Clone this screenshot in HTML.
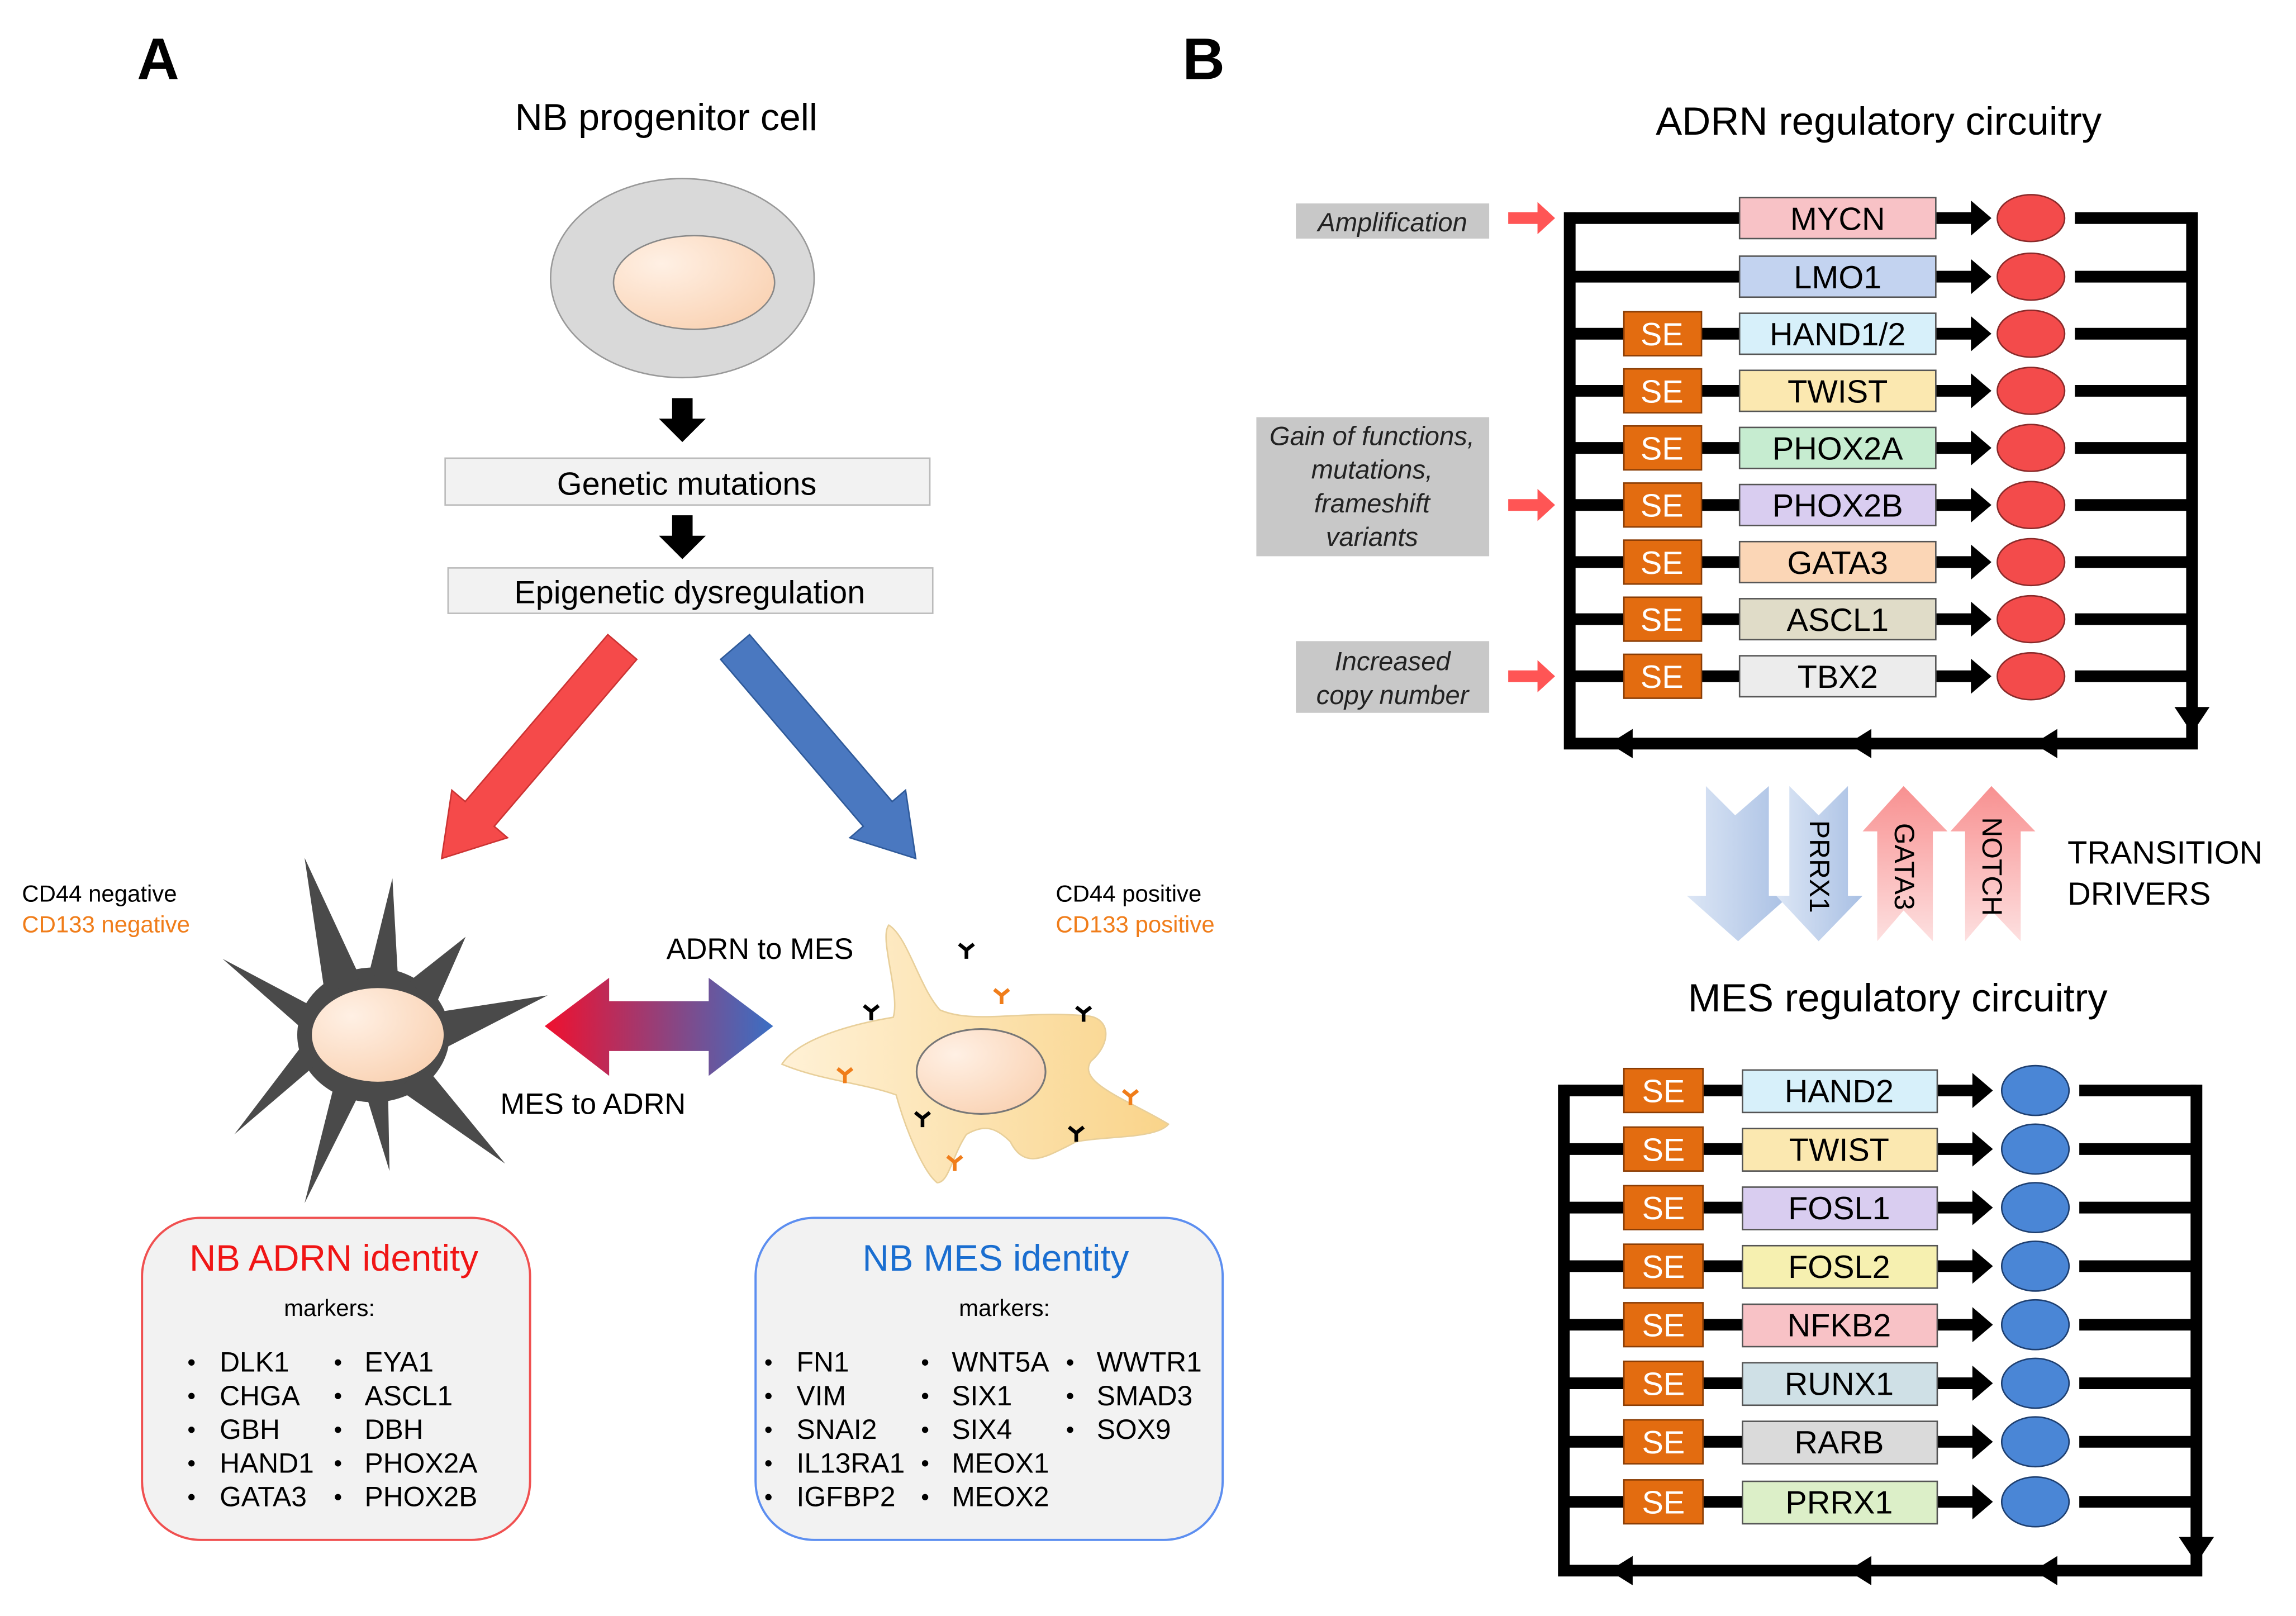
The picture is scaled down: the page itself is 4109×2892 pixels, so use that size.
<!DOCTYPE html>
<html><head><meta charset="utf-8"><style>
html,body{margin:0;padding:0;background:#fff}
svg{display:block}
text{font-family:"Liberation Sans",Arial,sans-serif}
</style></head><body>
<svg width="4109" height="2892" viewBox="0 0 1568 1104" preserveAspectRatio="none" xmlns="http://www.w3.org/2000/svg">
<defs>
<radialGradient id="nuc" cx="0.3" cy="0.3" r="0.9"><stop offset="0" stop-color="#fff0e4"/><stop offset="1" stop-color="#f9cfae"/></radialGradient>
<linearGradient id="dbl" x1="0" x2="1"><stop offset="0" stop-color="#f0102e"/><stop offset="1" stop-color="#3a6fc4"/></linearGradient>
<linearGradient id="mesc" x1="0" x2="1"><stop offset="0" stop-color="#fff1d6"/><stop offset="1" stop-color="#f9d48a"/></linearGradient>
<linearGradient id="bl" x1="0" x2="1"><stop offset="0" stop-color="#dce6f5"/><stop offset="1" stop-color="#a9c0e4"/></linearGradient>
<linearGradient id="pk" x1="0" x2="0" y1="1" y2="0"><stop offset="0" stop-color="#fde0e0"/><stop offset="1" stop-color="#f89090"/></linearGradient>
</defs>

<text x="108" y="54" font-size="40" font-weight="bold" text-anchor="middle">A</text>
<text x="822" y="54" font-size="40" font-weight="bold" text-anchor="middle">B</text>

<!-- Panel A -->
<text x="455" y="89" font-size="26" text-anchor="middle">NB progenitor cell</text>
<ellipse cx="466" cy="190" rx="90" ry="68" fill="#d9d9d9" stroke="#999" stroke-width="1"/>
<ellipse cx="474" cy="193" rx="55" ry="32" fill="url(#nuc)" stroke="#888" stroke-width="1"/>
<path d="M459,272h14v14h9l-16,16l-16,-16h9z" fill="#000"/>
<path d="M459,352h14v14h9l-16,16l-16,-16h9z" fill="#000"/>
<rect x="304" y="313" width="331" height="32" fill="#f2f2f2" stroke="#bbb"/>
<text x="469" y="338" font-size="22" text-anchor="middle">Genetic mutations</text>
<rect x="306" y="388" width="331" height="31" fill="#f2f2f2" stroke="#bbb"/>
<text x="471" y="412" font-size="22" text-anchor="middle">Epigenetic dysregulation</text>
<g transform="translate(425,442) rotate(130.5)"><path d="M0,-13L150,-13L150,-25L190,0L150,25L150,13L0,13z" fill="#f54a4a" stroke="#c33" stroke-width="1"/></g>
<g transform="translate(502,442) rotate(49.5)"><path d="M0,-13L150,-13L150,-25L190,0L150,25L150,13L0,13z" fill="#4a78c0" stroke="#2f5a9a" stroke-width="1"/></g>

<text x="15" y="616" font-size="16">CD44 negative</text>
<text x="15" y="637" font-size="16" fill="#f07d1a">CD133 negative</text>
<text x="721" y="616" font-size="16">CD44 positive</text>
<text x="721" y="637" font-size="16" fill="#f07d1a">CD133 positive</text>

<!-- ADRN star cell -->
<g fill="#4a4a4a">
<ellipse cx="255" cy="707" rx="52" ry="46"/>
<path d="M222,680L208,586L246,668z"/>
<path d="M252,665L268,600L272,672z"/>
<path d="M280,670L318,640L296,690z"/>
<path d="M295,692L374,680L300,718z"/>
<path d="M290,728L345,795L272,744z"/>
<path d="M265,745L266,800L250,748z"/>
<path d="M245,748L208,822L228,742z"/>
<path d="M215,728L160,775L208,712z"/>
<path d="M210,706L152,655L218,690z"/>
</g>
<ellipse cx="258" cy="707" rx="45" ry="32" fill="url(#nuc)"/>

<path d="M372,701L416,668L416,684L484,684L484,668L528,701L484,735L484,718L416,718L416,735z" fill="url(#dbl)"/>
<text x="519" y="655" font-size="20" text-anchor="middle">ADRN to MES</text>
<text x="405" y="761" font-size="20" text-anchor="middle">MES to ADRN</text>

<!-- MES cell -->
<path d="M607,632C620,640 628,675 642,690C665,700 700,690 742,694C758,695 760,712 745,725C735,740 772,752 798,768C790,778 755,776 735,780C715,790 700,800 690,780C680,770 672,768 660,775C650,790 648,808 640,808C630,800 618,770 612,748C590,740 560,738 534,727C545,710 580,700 610,695C615,680 600,640 607,632z" fill="url(#mesc)" stroke="#e8cf9a" stroke-width="1"/>
<ellipse cx="670" cy="732" rx="44" ry="29" fill="url(#nuc)" stroke="#777" stroke-width="1.2"/>
<g stroke="#000" stroke-width="2.5" fill="none">
<path d="M660,655v-6M660,649l-5,-4M660,649l5,-4"/>
<path d="M595,697v-6M595,691l-5,-4M595,691l5,-4"/>
<path d="M740,698v-6M740,692l-5,-4M740,692l5,-4"/>
<path d="M630,770v-6M630,764l-5,-4M630,764l5,-4"/>
<path d="M735,780v-6M735,774l-5,-4M735,774l5,-4"/>
</g>
<g stroke="#f07d1a" stroke-width="2.5" fill="none">
<path d="M684,686v-6M684,680l-5,-4M684,680l5,-4"/>
<path d="M577,740v-6M577,734l-5,-4M577,734l5,-4"/>
<path d="M772,755v-6M772,749l-5,-4M772,749l5,-4"/>
<path d="M652,800v-6M652,794l-5,-4M652,794l5,-4"/>
</g>

<!-- identity boxes -->
<rect x="97" y="832" width="265" height="220" rx="40" fill="#f2f2f2" stroke="#f05050" stroke-width="1.5"/>
<text x="228" y="868" font-size="25" fill="#f01515" text-anchor="middle">NB ADRN identity</text>
<text x="225" y="899" font-size="16" text-anchor="middle">markers:</text>
<g font-size="19">
<g font-size="16"><text x="128" y="936">•</text><text x="128" y="959">•</text><text x="128" y="982">•</text><text x="128" y="1005">•</text><text x="128" y="1028">•</text>
<text x="228" y="936">•</text><text x="228" y="959">•</text><text x="228" y="982">•</text><text x="228" y="1005">•</text><text x="228" y="1028">•</text></g>
<text x="150" y="937">DLK1</text><text x="150" y="960">CHGA</text><text x="150" y="983">GBH</text><text x="150" y="1006">HAND1</text><text x="150" y="1029">GATA3</text>
<text x="249" y="937">EYA1</text><text x="249" y="960">ASCL1</text><text x="249" y="983">DBH</text><text x="249" y="1006">PHOX2A</text><text x="249" y="1029">PHOX2B</text>
</g>
<rect x="516" y="832" width="319" height="220" rx="40" fill="#f2f2f2" stroke="#5c8ef0" stroke-width="1.5"/>
<text x="680" y="868" font-size="25" fill="#1a6ed0" text-anchor="middle">NB MES identity</text>
<text x="686" y="899" font-size="16" text-anchor="middle">markers:</text>
<g font-size="19">
<g font-size="16"><text x="522" y="936">•</text><text x="522" y="959">•</text><text x="522" y="982">•</text><text x="522" y="1005">•</text><text x="522" y="1028">•</text>
<text x="629" y="936">•</text><text x="629" y="959">•</text><text x="629" y="982">•</text><text x="629" y="1005">•</text><text x="629" y="1028">•</text>
<text x="728" y="936">•</text><text x="728" y="959">•</text><text x="728" y="982">•</text></g>
<text x="544" y="937">FN1</text><text x="544" y="960">VIM</text><text x="544" y="983">SNAI2</text><text x="544" y="1006">IL13RA1</text><text x="544" y="1029">IGFBP2</text>
<text x="650" y="937">WNT5A</text><text x="650" y="960">SIX1</text><text x="650" y="983">SIX4</text><text x="650" y="1006">MEOX1</text><text x="650" y="1029">MEOX2</text>
<text x="749" y="937">WWTR1</text><text x="749" y="960">SMAD3</text><text x="749" y="983">SOX9</text>
</g>

<!-- Panel B: ADRN -->
<text x="1283" y="92" font-size="27" text-anchor="middle">ADRN regulatory circuitry</text>
<g font-size="18" font-style="italic" text-anchor="middle" fill="#222">
<rect x="885" y="139" width="132" height="24" fill="#c8c8c8"/>
<text x="951" y="158">Amplification</text>
<rect x="858" y="285" width="159" height="95" fill="#c8c8c8"/>
<text x="937" y="304">Gain of functions,</text><text x="937" y="327">mutations,</text><text x="937" y="350">frameshift</text><text x="937" y="373">variants</text>
<rect x="885" y="438" width="132" height="49" fill="#c8c8c8"/>
<text x="951" y="458">Increased</text><text x="951" y="481">copy number</text>
</g>
<g fill="#f55">
<path d="M1030,145h20v-7l12,11l-12,11v-7h-20z"/>
<path d="M1030,341h20v-7l12,11l-12,11v-7h-20z"/>
<path d="M1030,458h20v-7l12,11l-12,11v-7h-20z"/>
</g>
<path d="M1072,145V508H1497V145" stroke="#000" stroke-width="8" fill="none"/>
<path d="M1485,483h24l-12,18z" fill="#000"/>
<path d="M1115,498v20l-16,-10z M1278,498v20l-16,-10z M1405,498v20l-16,-10z" fill="#000"/>

<g font-size="22" text-anchor="middle">
<g stroke="#000" stroke-width="8">
<line x1="1072" y1="149" x2="1188" y2="149"/><line x1="1417" y1="149" x2="1497" y2="149"/>
<line x1="1072" y1="189" x2="1188" y2="189"/><line x1="1417" y1="189" x2="1497" y2="189"/>
<line x1="1072" y1="228" x2="1188" y2="228"/><line x1="1417" y1="228" x2="1497" y2="228"/>
<line x1="1072" y1="267" x2="1188" y2="267"/><line x1="1417" y1="267" x2="1497" y2="267"/>
<line x1="1072" y1="306" x2="1188" y2="306"/><line x1="1417" y1="306" x2="1497" y2="306"/>
<line x1="1072" y1="345" x2="1188" y2="345"/><line x1="1417" y1="345" x2="1497" y2="345"/>
<line x1="1072" y1="384" x2="1188" y2="384"/><line x1="1417" y1="384" x2="1497" y2="384"/>
<line x1="1072" y1="423" x2="1188" y2="423"/><line x1="1417" y1="423" x2="1497" y2="423"/>
<line x1="1072" y1="462" x2="1188" y2="462"/><line x1="1417" y1="462" x2="1497" y2="462"/>
</g>
<g fill="#000">
<path d="M1322,145h24v-8l14,12l-14,12v-8h-24z"/>
<path d="M1322,185h24v-8l14,12l-14,12v-8h-24z"/>
<path d="M1322,224h24v-8l14,12l-14,12v-8h-24z"/>
<path d="M1322,263h24v-8l14,12l-14,12v-8h-24z"/>
<path d="M1322,302h24v-8l14,12l-14,12v-8h-24z"/>
<path d="M1322,341h24v-8l14,12l-14,12v-8h-24z"/>
<path d="M1322,380h24v-8l14,12l-14,12v-8h-24z"/>
<path d="M1322,419h24v-8l14,12l-14,12v-8h-24z"/>
<path d="M1322,458h24v-8l14,12l-14,12v-8h-24z"/>
</g>
<g fill="#f34b4b" stroke="#8a2a2a" stroke-width="1">
<ellipse cx="1387" cy="149" rx="23" ry="16"/><ellipse cx="1387" cy="189" rx="23" ry="16"/><ellipse cx="1387" cy="228" rx="23" ry="16"/><ellipse cx="1387" cy="267" rx="23" ry="16"/><ellipse cx="1387" cy="306" rx="23" ry="16"/><ellipse cx="1387" cy="345" rx="23" ry="16"/><ellipse cx="1387" cy="384" rx="23" ry="16"/><ellipse cx="1387" cy="423" rx="23" ry="16"/><ellipse cx="1387" cy="462" rx="23" ry="16"/>
</g>
<g stroke="#555" stroke-width="1">
<rect x="1188" y="135" width="134" height="28" fill="#f8c2c6"/>
<rect x="1188" y="175" width="134" height="28" fill="#c3d3f0"/>
<rect x="1188" y="214" width="134" height="28" fill="#d7f0fa"/>
<rect x="1188" y="253" width="134" height="28" fill="#fbe8b0"/>
<rect x="1188" y="292" width="134" height="28" fill="#c6ecd0"/>
<rect x="1188" y="331" width="134" height="28" fill="#d9cdf0"/>
<rect x="1188" y="370" width="134" height="28" fill="#fbd6b6"/>
<rect x="1188" y="409" width="134" height="28" fill="#e0dcc8"/>
<rect x="1188" y="448" width="134" height="28" fill="#ececec"/>
</g>
<g fill="#e36c10" stroke="#8a3d05" stroke-width="1">
<rect x="1109" y="213" width="53" height="30"/><rect x="1109" y="252" width="53" height="30"/><rect x="1109" y="291" width="53" height="30"/><rect x="1109" y="330" width="53" height="30"/><rect x="1109" y="369" width="53" height="30"/><rect x="1109" y="408" width="53" height="30"/><rect x="1109" y="447" width="53" height="30"/>
</g>
<g fill="#fff">
<text x="1135" y="236">SE</text><text x="1135" y="275">SE</text><text x="1135" y="314">SE</text><text x="1135" y="353">SE</text><text x="1135" y="392">SE</text><text x="1135" y="431">SE</text><text x="1135" y="470">SE</text>
</g>
<text x="1255" y="157">MYCN</text><text x="1255" y="197">LMO1</text><text x="1255" y="236">HAND1/2</text><text x="1255" y="275">TWIST</text><text x="1255" y="314">PHOX2A</text><text x="1255" y="353">PHOX2B</text><text x="1255" y="392">GATA3</text><text x="1255" y="431">ASCL1</text><text x="1255" y="470">TBX2</text>
</g>

<!-- transition arrows -->
<path d="M1165,537L1185,557L1208,537L1208,612L1222,612L1187,643L1152,612L1165,612z" fill="url(#bl)"/>
<path d="M1222,537L1242,557L1262,537L1262,612L1272,612L1242,643L1213,612L1222,612z" fill="url(#bl)"/>
<path d="M1282,643L1300,622L1320,643L1320,568L1330,568L1300,537L1272,568L1282,568z" fill="url(#pk)"/>
<path d="M1342,643L1360,622L1380,643L1380,568L1390,568L1360,537L1332,568L1342,568z" fill="url(#pk)"/>
<g font-size="19" text-anchor="middle">
<text transform="translate(1236,592) rotate(90)">PRRX1</text>
<text transform="translate(1294,592) rotate(90)">GATA3</text>
<text transform="translate(1354,592) rotate(90)">NOTCH</text>
</g>
<text x="1412" y="590" font-size="22">TRANSITION</text>
<text x="1412" y="618" font-size="22">DRIVERS</text>

<!-- MES -->
<text x="1296" y="691" font-size="27" text-anchor="middle">MES regulatory circuitry</text>
<path d="M1068,741V1073H1500V741" stroke="#000" stroke-width="8" fill="none"/>
<path d="M1488,1050h24l-12,18z" fill="#000"/>
<path d="M1115,1063v20l-16,-10z M1278,1063v20l-16,-10z M1405,1063v20l-16,-10z" fill="#000"/>
<g font-size="22" text-anchor="middle">
<g stroke="#000" stroke-width="8">
<line x1="1068" y1="745" x2="1190" y2="745"/><line x1="1420" y1="745" x2="1500" y2="745"/>
<line x1="1068" y1="785" x2="1190" y2="785"/><line x1="1420" y1="785" x2="1500" y2="785"/>
<line x1="1068" y1="825" x2="1190" y2="825"/><line x1="1420" y1="825" x2="1500" y2="825"/>
<line x1="1068" y1="865" x2="1190" y2="865"/><line x1="1420" y1="865" x2="1500" y2="865"/>
<line x1="1068" y1="905" x2="1190" y2="905"/><line x1="1420" y1="905" x2="1500" y2="905"/>
<line x1="1068" y1="945" x2="1190" y2="945"/><line x1="1420" y1="945" x2="1500" y2="945"/>
<line x1="1068" y1="985" x2="1190" y2="985"/><line x1="1420" y1="985" x2="1500" y2="985"/>
<line x1="1068" y1="1026" x2="1190" y2="1026"/><line x1="1420" y1="1026" x2="1500" y2="1026"/>
</g>
<g fill="#000">
<path d="M1323,741h24v-8l14,12l-14,12v-8h-24z"/>
<path d="M1323,781h24v-8l14,12l-14,12v-8h-24z"/>
<path d="M1323,821h24v-8l14,12l-14,12v-8h-24z"/>
<path d="M1323,861h24v-8l14,12l-14,12v-8h-24z"/>
<path d="M1323,901h24v-8l14,12l-14,12v-8h-24z"/>
<path d="M1323,941h24v-8l14,12l-14,12v-8h-24z"/>
<path d="M1323,981h24v-8l14,12l-14,12v-8h-24z"/>
<path d="M1323,1022h24v-8l14,12l-14,12v-8h-24z"/>
</g>
<g fill="#4a86d6" stroke="#1e3f70" stroke-width="1">
<ellipse cx="1390" cy="745" rx="23" ry="17"/><ellipse cx="1390" cy="785" rx="23" ry="17"/><ellipse cx="1390" cy="825" rx="23" ry="17"/><ellipse cx="1390" cy="865" rx="23" ry="17"/><ellipse cx="1390" cy="905" rx="23" ry="17"/><ellipse cx="1390" cy="945" rx="23" ry="17"/><ellipse cx="1390" cy="985" rx="23" ry="17"/><ellipse cx="1390" cy="1026" rx="23" ry="17"/>
</g>
<g stroke="#555" stroke-width="1">
<rect x="1190" y="731" width="133" height="29" fill="#d7f0fa"/>
<rect x="1190" y="771" width="133" height="29" fill="#fbe8b0"/>
<rect x="1190" y="811" width="133" height="29" fill="#d9cdf0"/>
<rect x="1190" y="851" width="133" height="29" fill="#f6f0b0"/>
<rect x="1190" y="891" width="133" height="29" fill="#f8c2c6"/>
<rect x="1190" y="931" width="133" height="29" fill="#cfe0e6"/>
<rect x="1190" y="971" width="133" height="29" fill="#dadada"/>
<rect x="1190" y="1012" width="133" height="29" fill="#dcefc8"/>
</g>
<g fill="#e36c10" stroke="#8a3d05" stroke-width="1">
<rect x="1109" y="730" width="54" height="30"/><rect x="1109" y="770" width="54" height="30"/><rect x="1109" y="810" width="54" height="30"/><rect x="1109" y="850" width="54" height="30"/><rect x="1109" y="890" width="54" height="30"/><rect x="1109" y="930" width="54" height="30"/><rect x="1109" y="970" width="54" height="30"/><rect x="1109" y="1011" width="54" height="30"/>
</g>
<g fill="#fff">
<text x="1136" y="753">SE</text><text x="1136" y="793">SE</text><text x="1136" y="833">SE</text><text x="1136" y="873">SE</text><text x="1136" y="913">SE</text><text x="1136" y="953">SE</text><text x="1136" y="993">SE</text><text x="1136" y="1034">SE</text>
</g>
<text x="1256" y="753">HAND2</text><text x="1256" y="793">TWIST</text><text x="1256" y="833">FOSL1</text><text x="1256" y="873">FOSL2</text><text x="1256" y="913">NFKB2</text><text x="1256" y="953">RUNX1</text><text x="1256" y="993">RARB</text><text x="1256" y="1034">PRRX1</text>
</g>
</svg>
</body></html>
